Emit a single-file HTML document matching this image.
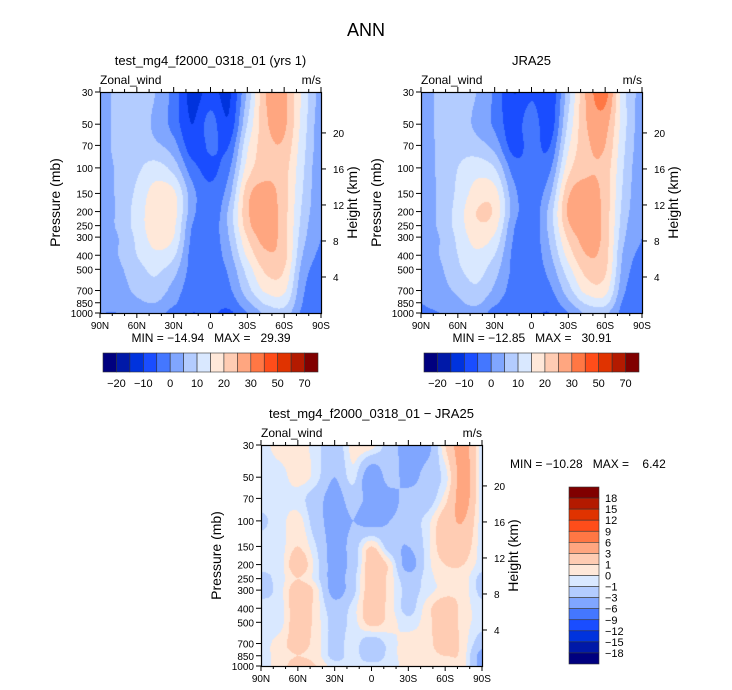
<!DOCTYPE html>
<html><head><meta charset="utf-8">
<style>
body{margin:0;background:#fff;}
#wrap{position:relative;width:732px;height:690px;overflow:hidden;font-family:"Liberation Sans",sans-serif;}
canvas{position:absolute;}
svg{position:absolute;left:0;top:0;}
text{white-space:pre;}
</style></head>
<body>
<div id="wrap">
<canvas id="c1" width="221" height="221" style="left:100px;top:92px"></canvas>
<canvas id="c2" width="221" height="221" style="left:421px;top:92px"></canvas>
<canvas id="c3" width="221" height="221" style="left:261px;top:445px"></canvas>
<svg id="s" width="732" height="690"></svg>
</div>
<script>
const lats = ["90N","75N","60N","45N","30N","15N","0","15S","30S","45S","60S","75S","90S"];
const pressures = [30,50,70,100,150,200,250,300,400,500,700,850,1000];
const palette = ["#00007f","#0019a8","#0033dd","#1a4dff","#4477ff","#80a6ff","#b3ccff","#d9e8ff","#ffe8d9","#ffccb3","#ffa680","#ff7744","#ff4d1a","#e03300","#b31a00","#800000"];
const levelsAbs = [-20,-15,-10,-5,0,5,10,15,20,25,30,40,50,60,70];
const levelsDiff = [-18,-15,-12,-9,-6,-3,-1,0,1,3,6,9,12,15,18];
const absTickLabels = ["-20","-10","0","10","20","30","50","70"];
const diffTickLabels = ["18","15","12","9","6","3","1","0","-1","-3","-6","-9","-12","-15","-18"];
const xTickLabels = ["90N","60N","30N","0","30S","60S","90S"];
const pTickLabels = [30,50,70,100,150,200,250,300,400,500,700,850,1000];
const hTickLabels = [4,8,12,16,20];
// rows = pressures, cols = lats
const modelU = [
[2,7,7,5,-2,-12,-8,-11,6,25,26,14,3],
[2,7,7,4,-2,-10,-3,-9,10,24,26,13,2],
[2,7,7,6,2,-8,-4,-5,14,23,24,12,2],
[2,6,9,12,8,-3,-6,-1,17,23,22,11,1],
[2,6,11,17,16,2,-4,3,23,27,22,10,1],
[2,6,12,18,17,2,-4,6,24,28,22,9,1],
[2,6,12,18,16,0,-3,6,23,28,22,8,0],
[2,5,11,17,15,-1,-3,5,20,27,22,7,0],
[2,5,10,14,11,-2,-3,3,16,24,22,5,-1],
[2,4,8,11,7,-2,-3,1,12,21,20,3,-2],
[2,3,6,8,3,-3,-3,-1,8,16,16,1,-3],
[1,2,4,5,1,-4,-3,-3,4,11,12,0,-3],
[0,0,1,2,-2,-5,-4,-6,0,6,8,-1,-3]];
const jraU = [
[2,6,7,5,-1,-10,-6,-9,8,26,32,12,3],
[2,6,7,4,-1,-8,-2,-8,11,25,27,12,2],
[2,6,8,7,3,-7,-3,-5,14,24,25,11,2],
[2,6,10,13,10,-2,-4,-1,18,24,23,10,1],
[1,6,11,17,17,2,-3,4,24,27,23,9,1],
[1,6,12,20,19,3,-3,7,26,28,23,8,1],
[1,6,12,19,17,1,-3,7,24,28,23,7,0],
[1,5,11,17,14,0,-3,6,21,27,23,6,0],
[1,5,10,14,10,-1,-3,4,17,25,22,4,-1],
[1,4,9,12,7,-1,-3,2,13,22,21,3,-2],
[0,3,6,9,4,-2,-3,-1,8,17,17,1,-3],
[0,2,4,6,1,-3,-3,-3,4,11,12,-1,-3],
[-1,0,2,3,-2,-4,-4,-5,0,6,6,-2,-4]];
const diffU = [
[-0.5,0.5,0.5,-0.5,-2,0.5,0.5,-2,-4,-4,1,4,-0.5],
[-0.5,-0.5,0.5,-0.5,-3,-0.5,-5,-2,-4,-2,-0.5,4,-0.5],
[-0.5,-0.5,-0.5,-2,-4,-2,-4,-4,-2,-2,0.5,4,-0.5],
[-1.2,-0.5,0.5,-2,-4,-3,-4,-3,-2,-0.5,2,3,-0.5],
[-0.5,-0.5,1,-1,-4,-2,1,-2,-3,-0.5,2,2,-0.5],
[-0.5,-0.5,2,-0.5,-4,-2,2,0.5,-4,-0.5,1,1,-0.5],
[-1.5,-0.5,1,-0.5,-4,-1.5,2,0.5,-2,-0.5,0.5,0.5,-1.5],
[-1.5,-0.5,2,0.5,-4,-1.5,2,0.5,-1.5,-0.5,0.5,0.5,-1.5],
[-0.5,-0.5,2,0.5,-2,-0.5,2,0.5,-1.5,0.5,2,0.5,-0.5],
[-0.5,-0.5,2,0.5,-1.5,-0.5,1.5,0.5,-0.5,0.5,2,0.5,-0.5],
[-0.5,0.5,1.5,0.5,-1.5,-0.5,-2,-0.5,0.5,0.5,2,0.5,-2],
[-0.5,0.5,1,0.5,-1.5,-0.5,-2,-0.5,0.5,0.5,1,0.5,-4],
[-0.5,0.5,1.5,1,-0.5,-0.5,-0.5,-0.5,0.5,0.5,0.5,0.5,-4]];

const W=221,H=221;
const lp0=Math.log(30), lp1=Math.log(1000);
function yOfP(p){return (Math.log(p)-lp0)/(lp1-lp0)*H;}
function cr(p0,p1,p2,p3,t){return 0.5*((2*p1)+(-p0+p2)*t+(2*p0-5*p1+4*p2-p3)*t*t+(-p0+3*p1-3*p2+p3)*t*t*t);}
function g(grid,j,i){j=Math.max(0,Math.min(grid.length-1,j));i=Math.max(0,Math.min(grid[0].length-1,i));return grid[j][i];}
function sample(grid,x,y){
  const fx=x/W*(lats.length-1); let i=Math.min(Math.floor(fx),lats.length-2); const tx=fx-i;
  const lp=lp0+(y/H)*(lp1-lp0);
  let j=0; while(j<pressures.length-2 && Math.log(pressures[j+1])<lp) j++;
  const a=Math.log(pressures[j]), b=Math.log(pressures[j+1]);
  const ty=Math.max(0,Math.min(1,(lp-a)/(b-a)));
  const rows=[];
  for(let dj=-1;dj<=2;dj++){rows.push(cr(g(grid,j+dj,i-1),g(grid,j+dj,i),g(grid,j+dj,i+1),g(grid,j+dj,i+2),tx));}
  return cr(rows[0],rows[1],rows[2],rows[3],ty);
}
function colorOf(v,levels){let k=0;while(k<levels.length&&v>=levels[k])k++;return palette[k];}
function drawField(id,grid,levels){
  const ctx=document.getElementById(id).getContext('2d');
  for(let y=0;y<H;y++)for(let x=0;x<W;x++){
    ctx.fillStyle=colorOf(sample(grid,x+0.5,y+0.5),levels);ctx.fillRect(x,y,1,1);
  }
}
drawField('c1',modelU,levelsAbs);
drawField('c2',jraU,levelsAbs);
drawField('c3',diffU,levelsDiff);

const NS="http://www.w3.org/2000/svg";
const svg=document.getElementById('s');
function el(tag,attrs,text){const e=document.createElementNS(NS,tag);for(const k in attrs)e.setAttribute(k,attrs[k]);if(text!==undefined)e.textContent=text;svg.appendChild(e);return e;}
function txt(x,y,s,size,anchor,name,rot){
  const t=el('text',{x:x,y:y,'font-size':size,'text-anchor':anchor||'start',fill:'#000','font-family':'Liberation Sans, sans-serif'},s);
  if(rot)t.setAttribute('transform','rotate(-90 '+x+' '+y+')');
  
  
  return t;
}
function ln(x1,y1,x2,y2,name){const l=el('line',{x1:x1,y1:y1,x2:x2,y2:y2,stroke:'#000','stroke-width':1});return l;}
function hOfKm(h){return 1000*Math.exp(-h/7);}

function panel(ox,oy,title){
  txt(ox+W/2,oy-27,title,13,'middle','panel-title');
  txt(ox,oy-8,'Zonal_wind',12,'start','variable-label');
  txt(ox+W,oy-8,'m/s',12,'end','units-label');
  const r=el('rect',{x:ox+0.5,y:oy+0.5,width:W,height:H,fill:'none',stroke:'#000','stroke-width':1.2});
  
  pTickLabels.forEach(p=>{const y=oy+yOfP(p);ln(ox-5,y,ox,y,'pressure-tick');txt(ox-7,y+4,String(p),10,'end','pressure-tick-label');});
  for(let k=0;k<=18;k++){const x=ox+k*W/18;const len=k%3==0?5:3;ln(x,oy-len,x,oy,'top-tick');ln(x,oy+H,x,oy+H+len,'bottom-tick');}
  xTickLabels.forEach((s,k)=>txt(ox+k*W/6,oy+H+16,s,10,'middle','latitude-tick-label'));
  hTickLabels.forEach(h=>{const y=oy+yOfP(hOfKm(h));ln(ox+W,y,ox+W+5,y,'height-tick');txt(ox+W+12,y+4,String(h),10,'start','height-tick-label');});
  txt(ox-40,oy+H/2,'Pressure (mb)',14,'middle','pressure-axis-title',true);
  txt(ox+W+36,oy+H/2,'Height (km)',14,'middle','height-axis-title',true);
}
txt(366,36,'ANN',18,'middle','figure-title');
panel(100,92,'test_mg4_f2000_0318_01 (yrs 1)');
panel(421,92,'JRA25');
panel(261,445,'test_mg4_f2000_0318_01 \u2212 JRA25');
txt(211,342,'MIN = \u221214.94   MAX =   29.39',12,'middle','min-max-label');
txt(532,342,'MIN = \u221212.85   MAX =   30.91',12,'middle','min-max-label');
txt(510,468,'MIN = \u221210.28   MAX =    6.42',12,'start','min-max-label');

function hbar(x0,y0,w,h){
  const bw=w/16;
  for(let i=0;i<16;i++){const r=el('rect',{x:x0+i*bw,y:y0,width:bw,height:h,fill:palette[i],stroke:'#333','stroke-width':0.6});
    }
  absTickLabels.forEach((s,k)=>txt(x0+(1+2*k)*bw,y0+h+15,s.replace('-','\u2212'),11,'middle','colorbar-label'));
}
hbar(103,353,215,19);
hbar(424,353,215,19);
(function(){const x0=569,y0=487,w=30,h=177,bh=h/16;
  for(let i=0;i<16;i++){const r=el('rect',{x:x0,y:y0+i*bh,width:w,height:bh,fill:palette[15-i],stroke:'#333','stroke-width':0.6});
    }
  diffTickLabels.forEach((s,k)=>txt(x0+w+6,y0+(k+1)*bh+4,s.replace('-','\u2212'),11,'start','colorbar-label'));
})();
</script>
</body></html>
